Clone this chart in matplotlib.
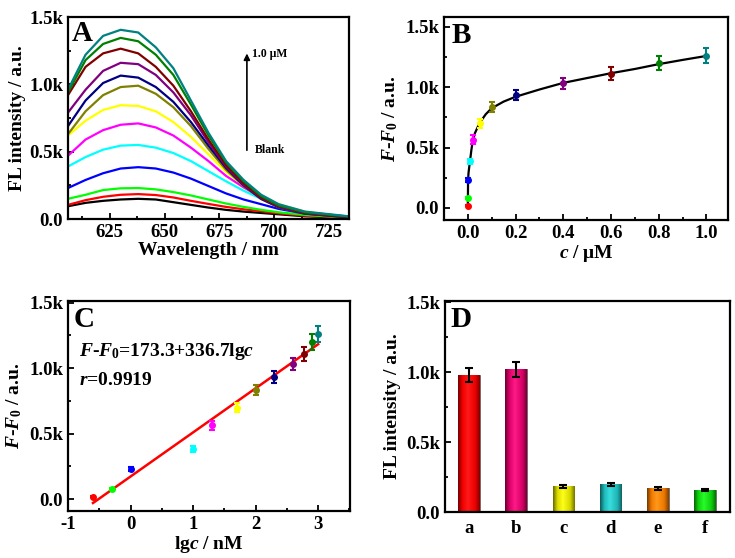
import numpy as np
import matplotlib
matplotlib.use('Agg')
import matplotlib.pyplot as plt
from matplotlib.colors import LinearSegmentedColormap, to_rgb
from matplotlib.ticker import MultipleLocator, FuncFormatter

plt.rcParams['font.family'] = 'Liberation Serif'
plt.rcParams['font.weight'] = 'bold'
plt.rcParams['axes.labelweight'] = 'bold'
plt.rcParams['axes.unicode_minus'] = False
plt.rcParams['mathtext.fontset'] = 'custom'
plt.rcParams['mathtext.rm'] = 'Liberation Serif:bold'
plt.rcParams['mathtext.it'] = 'Liberation Serif:bold:italic'
plt.rcParams['mathtext.bf'] = 'Liberation Serif:bold'

# ---- panel A: spectra ----
wl = [606, 614, 622, 630, 638, 646, 654, 662, 670, 678, 686, 694, 702, 714, 734]
spec_blank = [95, 120, 135, 145, 150, 145, 125, 105, 85, 68, 55, 45, 35, 20, 8]
spec_025nM = [105, 140, 165, 180, 185, 178, 160, 135, 112, 90, 72, 58, 42, 25, 10]
spec_05nM = [150, 180, 215, 228, 230, 220, 200, 175, 145, 115, 90, 68, 50, 30, 10]
spec_1nM = [230, 290, 340, 375, 385, 375, 345, 300, 245, 190, 145, 110, 75, 40, 12]
spec_10nM = [390, 460, 515, 545, 550, 530, 490, 430, 355, 280, 210, 150, 100, 50, 14]
spec_20nM = [470, 590, 660, 700, 710, 680, 620, 530, 430, 320, 235, 160, 105, 52, 14]
spec_50nM = [620, 730, 810, 845, 840, 800, 720, 610, 480, 350, 250, 170, 110, 55, 15]
spec_100nM = [630, 800, 920, 980, 990, 930, 830, 690, 520, 365, 245, 148, 86, 40, 12]
spec_200nM = [690, 880, 1010, 1065, 1050, 980, 870, 720, 545, 380, 250, 150, 88, 40, 13]
spec_400nM = [790, 960, 1100, 1160, 1150, 1070, 940, 770, 570, 390, 255, 155, 90, 42, 14]
spec_600nM = [920, 1130, 1230, 1265, 1230, 1130, 990, 800, 590, 400, 265, 160, 95, 45, 15]
spec_800nM = [940, 1180, 1300, 1345, 1320, 1220, 1070, 850, 620, 420, 280, 170, 100, 50, 18]
spec_1uM = [960, 1220, 1360, 1405, 1385, 1275, 1120, 880, 640, 430, 290, 180, 110, 55, 20]

spectra = [spec_blank, spec_025nM, spec_05nM, spec_1nM, spec_10nM, spec_20nM, spec_50nM,
           spec_100nM, spec_200nM, spec_400nM, spec_600nM, spec_800nM, spec_1uM]
spec_colors = ['#000000', '#ff0000', '#00ff00', '#0000ff', '#00ffff', '#ff00ff', '#ffff00',
               '#808000', '#000080', '#800080', '#800000', '#008000', '#008080']

# ---- panel B / C: calibration ----
conc_uM = [0.00025, 0.0005, 0.001, 0.01, 0.02, 0.05, 0.1, 0.2, 0.4, 0.6, 0.8, 1.0]
lg_conc_nM = [-0.6, -0.3, 0.0, 1.0, 1.3, 1.7, 2.0, 2.3, 2.6, 2.78, 2.9, 3.0]
dF = [20, 80, 230, 385, 565, 700, 835, 935, 1030, 1110, 1200, 1260]
dF_err = [6, 8, 15, 22, 35, 35, 40, 45, 45, 55, 60, 60]
pt_colors = spec_colors[1:]

fit_c = [0.00025, 0.0005, 0.001, 0.003, 0.006, 0.01, 0.015, 0.02, 0.03, 0.05, 0.075, 0.1,
         0.15, 0.2, 0.3, 0.4, 0.5, 0.6, 0.7, 0.8, 0.9, 1.0]
fit_y = [25, 80, 225, 290, 340, 400, 480, 545, 620, 705, 775, 825,
         880, 920, 980, 1035, 1075, 1115, 1150, 1190, 1225, 1258]

lin_intercept = 173.3
lin_slope = 336.7
lin_range = [-0.6, 3.0]

# ---- panel D: selectivity ----
samples = ['a', 'b', 'c', 'd', 'e', 'f']
fl = [980, 1022, 185, 198, 170, 158]
fl_err = [50, 55, 12, 12, 10, 8]
bar_colors = ['#ff0000', '#e8006e', '#e8e800', '#20c4c4', '#ff8000', '#10e010']


def kfmt(v, pos):
    if abs(v) < 1e-9:
        return '0.0'
    return '%.1fk' % (v / 1000.0)


def style(ax):
    for s in ax.spines.values():
        s.set_linewidth(1.6)
    ax.tick_params(which='both', direction='in', top=False, right=False, labelsize=13.5, width=1.3)
    ax.tick_params(which='major', length=4)
    ax.tick_params(which='minor', length=2.5)
    ax.yaxis.set_major_locator(MultipleLocator(500))
    ax.yaxis.set_minor_locator(MultipleLocator(250))
    ax.yaxis.set_major_formatter(FuncFormatter(kfmt))


fig = plt.figure(figsize=(7.35, 5.58), dpi=100)

# A
axA = fig.add_axes([0.0925, 0.6075, 0.3823, 0.362])
for y, c in zip(spectra, spec_colors):
    axA.plot(wl, y, color=c, lw=1.6)
axA.set_xlim(606, 734)
axA.set_ylim(0, 1500)
axA.xaxis.set_major_locator(MultipleLocator(25))
axA.xaxis.set_minor_locator(MultipleLocator(12.5))
style(axA)
axA.set_xlabel('Wavelength / nm', fontsize=14, labelpad=1)
axA.set_ylabel('FL intensity / a.u.', fontsize=14, labelpad=2)
axA.text(0.015, 0.985, 'A', transform=axA.transAxes, fontsize=21, va='top', ha='left')
axA.annotate('', xy=(687.5, 1250), xytext=(687.5, 490),
             arrowprops=dict(arrowstyle='-|>', color='k', lw=1.2, mutation_scale=9))
axA.text(690, 1225, '1.0 μM', fontsize=8.5, va='center', ha='left')
axA.text(691, 510, 'Blank', fontsize=8.5, va='center', ha='left')

# B
axB = fig.add_axes([0.604, 0.6057, 0.3864, 0.3638])
axB.plot(fit_c, fit_y, color='k', lw=1.6, zorder=2)
for x, y, e, c in zip(conc_uM, dF, dF_err, pt_colors):
    axB.errorbar(x, y, yerr=e, fmt='o', color=c, ms=4, elinewidth=1.5, capsize=2.5,
                 capthick=1.5, zorder=3)
axB.set_xlim(-0.1, 1.09)
axB.set_ylim(-100, 1580)
axB.xaxis.set_major_locator(MultipleLocator(0.2))
axB.xaxis.set_minor_locator(MultipleLocator(0.1))
axB.xaxis.set_major_formatter(FuncFormatter(lambda v, p: '%.1f' % v))
style(axB)
axB.set_xlabel(r'$c$ / μM', fontsize=14, labelpad=1)
axB.set_ylabel(r'$F$-$F_0$ / a.u.', fontsize=14, labelpad=4)
axB.text(0.027, 0.975, 'B', transform=axB.transAxes, fontsize=21, va='top', ha='left')

# C
axC = fig.add_axes([0.0925, 0.0842, 0.3837, 0.3763])
lx = np.array(lin_range)
axC.plot(lx, lin_intercept + lin_slope * lx, color='#ff0000', lw=1.8, zorder=2)
for x, y, e, c in zip(lg_conc_nM, dF, dF_err, pt_colors):
    axC.errorbar(x, y, yerr=e, fmt='o', color=c, ms=4, elinewidth=1.5, capsize=2.5,
                 capthick=1.5, zorder=3)
axC.set_xlim(-1, 3.51)
axC.set_ylim(-90, 1513)
axC.xaxis.set_major_locator(MultipleLocator(1))
axC.xaxis.set_minor_locator(MultipleLocator(0.5))
axC.xaxis.set_major_formatter(FuncFormatter(lambda v, p: '%d' % round(v)))
style(axC)
axC.set_xlabel(r'lg$c$ / nM', fontsize=14, labelpad=1)
axC.set_ylabel(r'$F$-$F_0$ / a.u.', fontsize=14, labelpad=4)
axC.text(0.02, 0.975, 'C', transform=axC.transAxes, fontsize=21, va='top', ha='left')
axC.text(-0.83, 1125, r'$F$-$F_0$=173.3+336.7lg$c$', fontsize=14, va='center', ha='left')
axC.text(-0.83, 905, r'$r$=0.9919', fontsize=14, va='center', ha='left')

# D
axD = fig.add_axes([0.6054, 0.0824, 0.3878, 0.378])
xpos = np.arange(1, len(samples) + 1)
bars = axD.bar(xpos, fl, width=0.46, color=bar_colors, edgecolor='#666666', lw=0.6, zorder=2)
grad = np.linspace(0, 1, 64).reshape(1, -1)
for b, col in zip(bars, bar_colors):
    c = np.array(to_rgb(col))
    cmap = LinearSegmentedColormap.from_list(
        'bar', [(0, c * 0.45), (0.2, c * 0.95), (0.45, np.minimum(c + 0.1, 1)),
                (0.8, c * 0.92), (1, c * 0.5)])
    x0, y0 = b.get_x(), b.get_y()
    im = axD.imshow(grad, extent=[x0, x0 + b.get_width(), y0, y0 + b.get_height()],
                    aspect='auto', cmap=cmap, zorder=2.5, interpolation='bilinear')
    im.set_clip_path(b)
axD.errorbar(xpos, fl, yerr=fl_err, fmt='none', ecolor='k', elinewidth=1.5, capsize=3,
             capthick=1.5, zorder=4)
axD.set_xlim(0.49, 6.53)
axD.set_ylim(0, 1510)
style(axD)
axD.set_xticks(xpos)
axD.set_xticklabels(samples)
axD.tick_params(axis='x', length=0, pad=6)
axD.set_ylabel('FL intensity / a.u.', fontsize=14, labelpad=4)
axD.text(0.02, 0.975, 'D', transform=axD.transAxes, fontsize=21, va='top', ha='left')

fig.savefig('out.png', dpi=100)
